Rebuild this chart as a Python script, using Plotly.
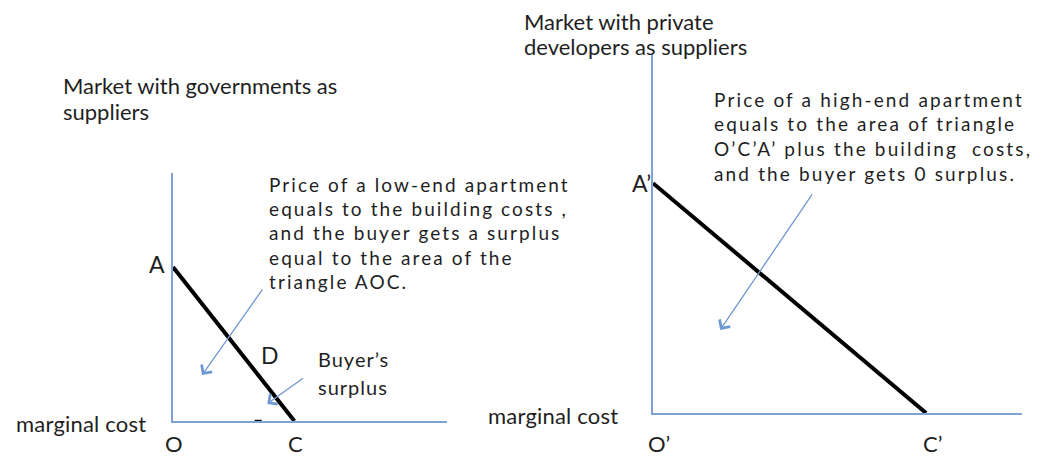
import plotly.graph_objects as go

W, H = 1038, 457
FONT = "Lato"

# ---- data (economic diagram, arbitrary units 0..10) ----
left_demand_x = [0.0, 4.43]      # A -> C
left_demand_y = [6.21, 0.0]
right_demand_x = [0.0, 7.40]     # A' -> C'
right_demand_y = [6.42, 0.0]
label_D_pos = (3.19, 2.66)
left_tick_x = [3.11]             # small stray tick on the left quantity axis
left_tick_y = [0.0]

left_arrows = [  # (tail_x, tail_y, head_x, head_y)
    (3.30, 5.36, 1.06, 1.85),
    (4.80, 1.77, 3.44, 0.69),
]
right_arrows = [
    (4.34, 6.15, 1.82, 2.32),
]

left_title = ["Market with governments as", "suppliers"]
right_title = ["Market with private", "developers as suppliers"]
left_note = ["Price of a low-end apartment", "equals to the building costs ,",
             "and the buyer gets a surplus", "equal to the area of the", "triangle AOC."]
right_note = ["Price of a high-end apartment", "equals to the area of triangle",
              "O\u2019C\u2019A\u2019 plus the building  costs,", "and the buyer gets 0 surplus."]
surplus_label = ["Buyer\u2019s", "surplus"]
axis_label = "marginal cost"

AXIS_COLOR = "#7ea3d6"
ARROW_COLOR = "#6f97d0"
TEXT_COLOR = "#1f1f1f"

fig = go.Figure()
fig.add_trace(go.Scatter(x=left_demand_x, y=left_demand_y, mode="lines",
                         line=dict(color="black", width=4), xaxis="x", yaxis="y",
                         hoverinfo="skip", showlegend=False))
fig.add_trace(go.Scatter(x=right_demand_x, y=right_demand_y, mode="lines",
                         line=dict(color="black", width=4), xaxis="x2", yaxis="y2",
                         hoverinfo="skip", showlegend=False))
fig.add_trace(go.Scatter(x=left_tick_x, y=left_tick_y, mode="markers",
                         marker=dict(symbol="line-ew", size=5, line=dict(color="black", width=2.5)),
                         xaxis="x", yaxis="y", hoverinfo="skip", showlegend=False, cliponaxis=False))

def px_x(p):
    return p / W

def px_y(p):
    return 1 - p / H

axis_common = dict(showgrid=False, zeroline=False, showticklabels=False, ticks="",
                   showline=True, linecolor=AXIS_COLOR, linewidth=2, fixedrange=True)
fig.update_layout(
    width=W, height=H, margin=dict(l=0, r=0, t=0, b=0),
    paper_bgcolor="white", plot_bgcolor="white", showlegend=False,
    xaxis=dict(domain=[px_x(173), px_x(447)], range=[0, 10], anchor="y", **axis_common),
    yaxis=dict(domain=[px_y(421), px_y(173)], range=[0, 10], anchor="x", **axis_common),
    xaxis2=dict(domain=[px_x(653), px_x(1022)], range=[0, 10], anchor="y2", **axis_common),
    yaxis2=dict(domain=[px_y(413), px_y(55)], range=[0, 10], anchor="x2", **axis_common),
    font=dict(family=FONT, color=TEXT_COLOR),
)

ann = []
for (tx, ty, hx, hy) in left_arrows:
    ann.append(dict(x=hx, y=hy, ax=tx, ay=ty, xref="x", yref="y", axref="x", ayref="y",
                    showarrow=True, arrowhead=4, arrowsize=1.9, arrowwidth=1.3,
                    arrowcolor=ARROW_COLOR, text=""))
for (tx, ty, hx, hy) in right_arrows:
    ann.append(dict(x=hx, y=hy, ax=tx, ay=ty, xref="x2", yref="y2", axref="x2", ayref="y2",
                    showarrow=True, arrowhead=4, arrowsize=1.9, arrowwidth=1.3,
                    arrowcolor=ARROW_COLOR, text=""))

K = 0.30  # baseline-to-centre factor

def spaced(txt, ls):
    if ls:
        return '<span style="letter-spacing:%.2fpx">%s</span>' % (ls, txt)
    return txt

def text_lines(lines, x_px, first_baseline, step, size, ls=0.0):
    for i, line in enumerate(lines):
        base = first_baseline + i * step
        ann.append(dict(text=spaced(line, ls), x=px_x(x_px), y=px_y(base - K * size),
                        xref="paper", yref="paper", xanchor="left", yanchor="middle",
                        showarrow=False, align="left", borderpad=0,
                        font=dict(family=FONT, size=size, color=TEXT_COLOR)))

text_lines(left_title, 62, 92, 26, 22)
text_lines(right_title, 523, 28, 25, 22)
text_lines(left_note, 268, 190, 24.3, 19, ls=2.1)
text_lines(right_note, 713, 105, 24.7, 19, ls=2.15)
text_lines(surplus_label, 317, 365, 28, 20, ls=1.0)
text_lines([axis_label], 15, 430, 0, 22, ls=0.2)
text_lines([axis_label], 487, 422, 0, 22, ls=0.2)

def pt_label(txt, x, y, xref, yref, xanchor, xshift=0, yshift=0, size=23):
    ann.append(dict(text=txt, x=x, y=y, xref=xref, yref=yref, xanchor=xanchor,
                    yanchor="middle", showarrow=False, borderpad=0,
                    xshift=xshift, yshift=yshift,
                    font=dict(family=FONT, size=size, color=TEXT_COLOR)))

pt_label("A", 0, left_demand_y[0], "x", "y", "right", xshift=-7, yshift=3)
pt_label("O", 0, 0, "x", "y", "center", xshift=1, yshift=-22, size=22)
pt_label("C", left_demand_x[1], 0, "x", "y", "center", xshift=1, yshift=-22, size=22)
pt_label("D", label_D_pos[0], label_D_pos[1], "x", "y", "left")
pt_label("A\u2019", 0, right_demand_y[0], "x2", "y2", "right", xshift=-1, yshift=0)
pt_label("O\u2019", 0, 0, "x2", "y2", "center", xshift=6, yshift=-30, size=22)
pt_label("C\u2019", right_demand_x[1], 0, "x2", "y2", "center", xshift=6, yshift=-30, size=22)

fig.update_layout(annotations=ann)
fig.write_html("out.html", config={"displayModeBar": False},
               post_script="document.body.style.margin='0px';")
